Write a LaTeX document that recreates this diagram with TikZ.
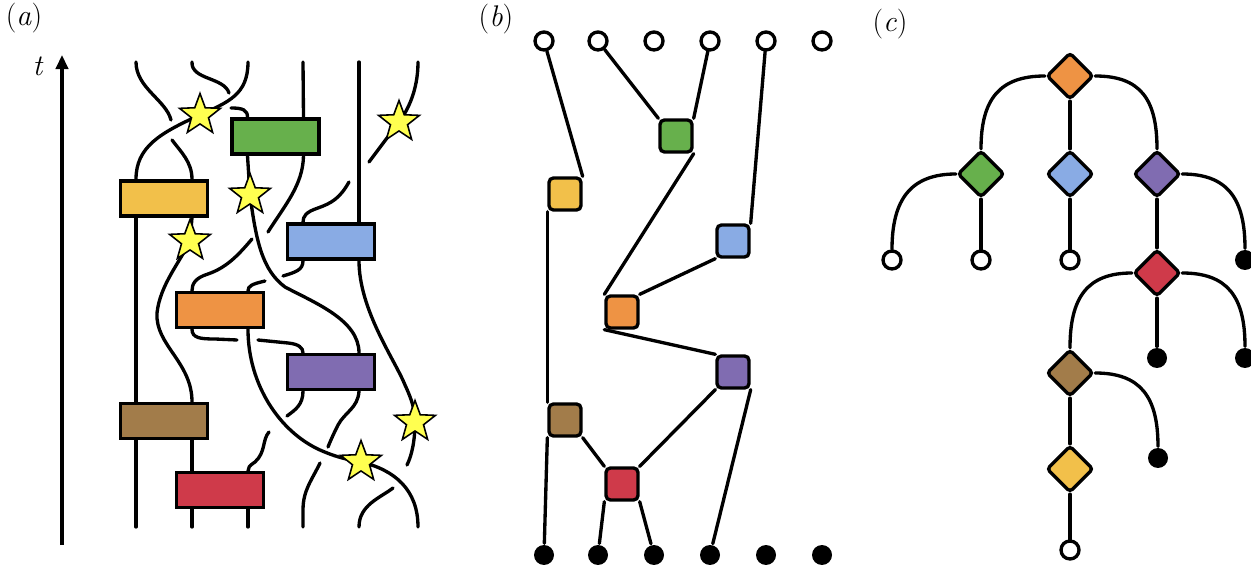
\documentclass[tikz,border=0pt]{standalone}
\usepackage{fontspec}
\usetikzlibrary{shapes.geometric,arrows.meta,calc}
\definecolor{gateGreen}{RGB}{103,176,76}
\definecolor{gateYellow}{RGB}{242,192,74}
\definecolor{gateBlue}{RGB}{137,171,228}
\definecolor{gateOrange}{RGB}{238,147,68}
\definecolor{gatePurple}{RGB}{128,108,177}
\definecolor{gateBrown}{RGB}{162,124,74}
\definecolor{gateRed}{RGB}{207,58,74}
\definecolor{starYellow}{RGB}{255,255,80}

\begin{document}
\begin{tikzpicture}[x=0.02cm, y=-0.02cm, line width=1.9pt, line cap=round,
        gate/.style={draw, rectangle, minimum width=1.74cm, minimum height=0.7cm, inner sep=0pt},
        tile/.style={draw, rectangle, rounded corners=2.5pt, minimum size=0.64cm, inner sep=0pt},
        gem/.style={draw, diamond, rounded corners=2pt, minimum size=0.94cm, inner sep=0pt},
        leaf/.style={draw, circle, fill=white, minimum size=0.36cm, inner sep=0pt},
        fulldot/.style={circle, fill=black, minimum size=0.4cm, inner sep=0pt},
        kick/.style={draw, star, star points=5, star point ratio=2.4, line width=0.9pt, fill=starYellow, minimum size=0.86cm, inner sep=0pt},
        lbl/.style={font=\fontsize{17}{20}\selectfont}]
        \useasboundingbox (0,0) rectangle (1251,567);

        \node[lbl] (pa) at (24,18) {(\textit{a})};
        \node[lbl] (pb) at (496,19) {(\textit{b})};
        \node[lbl] (pc) at (890,24) {(\textit{c})};
        \node[lbl] (tl) at (38,66) {\textit{t}};
        \coordinate (tbot) at (62,545);
        \coordinate (ttop) at (62,55);
        \draw[-{Triangle[length=8pt,width=7pt]}, line cap=butt] (tbot) -- (ttop);

        \foreach \i/\x in {1/136,2/192,3/248,4/303,5/359,6/418} {
            \coordinate (a\i) at (\x,62);
            \coordinate (z\i) at (\x,527);
        }
        \coordinate (s1) at (200,115);
        \coordinate (s2) at (399,122);
        \coordinate (s3) at (250,195);
        \coordinate (s4) at (190,241);
        \coordinate (s5) at (415,422);
        \coordinate (s6) at (361,462);

        \node[gate, fill=gateGreen] (gg) at (275.5,136.5) {};
        \node[gate, fill=gateYellow] (gy) at (164,198.5) {};
        \node[gate, fill=gateBlue] (gb) at (331,241.5) {};
        \node[gate, fill=gateOrange] (go) at (220,310) {};
        \node[gate, fill=gatePurple] (gp) at (331,372) {};
        \node[gate, fill=gateBrown] (gw) at (164,421) {};
        \node[gate, fill=gateRed] (gr) at (220,490) {};
        \foreach \g in {gg,gy,gb,go,gp,gw,gr} {
            \coordinate (\g-nl) at ($(\g.north)+(-28,0)$);
            \coordinate (\g-nr) at ($(\g.north)+(28,0)$);
            \coordinate (\g-sl) at ($(\g.south)+(-28,0)$);
            \coordinate (\g-sr) at ($(\g.south)+(28,0)$);
        }

        \draw (a1) .. controls (136,88) and (166,100) .. (171,120);
        \draw (172,140) .. controls (181,152) and (192,162) .. (gy-nr);
        \draw (a2) .. controls (191,80) and (224,77) .. (229,93);
        \draw (231,108) .. controls (243,108) and (247.5,110) .. (gg-nl);
        \draw (a3) .. controls (248,95) and (228,102) .. (s1) .. controls (160,133) and (136,147) .. (gy-nl);
        \draw (a4) -- (gg-nr);
        \draw (a5) -- (gb-nr);
        \draw (a6) .. controls (418,90) and (408,110) .. (s2) -- (369,162);
        \draw (349,182) .. controls (340,198) and (332,203) .. (318,208) .. controls (306,212) and (303,216) .. (gb-nl);
        \draw (gg-sl) -- (s3) .. controls (256,240) and (262,270) .. (285,287) .. controls (315,303) and (359,320) .. (gp-nr);
        \draw (gg-sr) .. controls (303,185) and (285,205) .. (268,232);
        \draw (252,239) .. controls (236,258) and (225,268) .. (208,274) .. controls (195,278) and (192,284) .. (go-nl);
        \draw (gy-sr) -- (s4) .. controls (180,262) and (160,285) .. (157,313) .. controls (155,345) and (192,362) .. (gw-nr);
        \draw (gy-sl) -- (gw-nl);
        \draw (gb-sl) .. controls (303,270) and (296,272) .. (283,276);
        \draw (265,281) .. controls (252,284) and (248,286) .. (go-nr);
        \draw (gb-sr) .. controls (359,310) and (395,360) .. (405,385) .. controls (412,400) and (415,410) .. (s5) .. controls (415,440) and (412,455) .. (407,465);
        \draw (393,488) .. controls (380,498) and (359,505) .. (z5);
        \draw (go-sr) .. controls (248,385) and (280,432) .. (320,450) .. controls (338,458) and (350,460) .. (s6) .. controls (395,470) and (418,490) .. (z6);
        \draw (go-sl) .. controls (192,338) and (200,339) .. (215,339) -- (237,340);
        \draw (258,340) -- (288,343) .. controls (299,344) and (303,348) .. (gp-nl);
        \draw (gp-sl) .. controls (303,405) and (295,410) .. (287,416);
        \draw (269,432) .. controls (262,440) and (266,452) .. (255,462) .. controls (249,466) and (248,468) .. (gr-nr);
        \draw (gp-sr) .. controls (358,408) and (345,412) .. (338,425) .. controls (333,435) and (330,442) .. (328,447);
        \draw (320,463) .. controls (312,480) and (303,490) .. (303,510) -- (z4);
        \draw (gw-sl) -- (z1);
        \draw (gw-sr) -- (gr-nl);
        \draw (gr-sl) -- (z2);
        \draw (gr-sr) -- (z3);
        \foreach \i in {1,...,6}
            \node[kick] (st\i) at (s\i) {};

        \foreach \i/\x in {1/544,2/598,3/654,4/710,5/766,6/822} {
            \node[leaf] (u\i) at (\x,41) {};
            \node[fulldot] (d\i) at (\x,555) {};
        }
        \node[tile, fill=gateGreen] (bG) at (676,136) {};
        \node[tile, fill=gateYellow] (bY) at (565,194) {};
        \node[tile, fill=gateBlue] (bB) at (733,241) {};
        \node[tile, fill=gateOrange] (bO) at (622,312) {};
        \node[tile, fill=gatePurple] (bP) at (733,372) {};
        \node[tile, fill=gateBrown] (bW) at (565,420) {};
        \node[tile, fill=gateRed] (bR) at (622,484) {};
        \draw (u1) -- (bY.north east);
        \draw (u2) -- (bG.north west);
        \draw (u4) -- (bG.north east);
        \draw (u5) -- (bB.north east);
        \draw (bY.south west) -- (bW.north west);
        \draw (bG.south east) -- (bO.north west);
        \draw (bB.south west) -- (bO.north east);
        \draw (bO.south west) -- (bP.north west);
        \draw (bP.south west) -- (bR.north east);
        \draw (bP.south east) -- (d4);
        \draw (bW.south east) -- (bR.north west);
        \draw (bW.south west) -- (d1);
        \draw (bR.south west) -- (d2);
        \draw (bR.south east) -- (d3);

        \node[gem, fill=gateOrange] (cO) at (1070,76) {};
        \node[gem, fill=gateGreen] (cG) at (981,174) {};
        \node[gem, fill=gateBlue] (cB) at (1070,174) {};
        \node[gem, fill=gatePurple] (cP) at (1157,174) {};
        \node[gem, fill=gateRed] (cR) at (1157,273) {};
        \node[gem, fill=gateBrown] (cW) at (1070,373) {};
        \node[gem, fill=gateYellow] (cY) at (1070,469) {};
        \node[leaf] (l1) at (892,260) {};
        \node[leaf] (l2) at (981,260) {};
        \node[leaf] (l3) at (1070,260) {};
        \node[fulldot] (l4) at (1245,260) {};
        \node[fulldot] (l5) at (1157,358) {};
        \node[fulldot] (l6) at (1245,358) {};
        \node[fulldot] (l7) at (1158,458) {};
        \node[leaf] (l8) at (1070,550) {};
        \draw (cO.west) .. controls +(-45,0) and +(0,-50) .. (cG.north);
        \draw (cO.east) .. controls +(45,0) and +(0,-50) .. (cP.north);
        \draw (cO.south) -- (cB.north);
        \draw (cG.west) .. controls +(-45,0) and +(0,-50) .. (l1.north);
        \draw (cG.south) -- (l2);
        \draw (cB.south) -- (l3);
        \draw (cP.south) -- (cR.north);
        \draw (cP.east) .. controls +(45,0) and +(0,-50) .. (l4.north);
        \draw (cR.west) .. controls +(-45,0) and +(0,-50) .. (cW.north);
        \draw (cR.south) -- (l5);
        \draw (cR.east) .. controls +(45,0) and +(0,-50) .. (l6.north);
        \draw (cW.east) .. controls +(45,0) and +(0,-50) .. (l7.north);
        \draw (cW.south) -- (cY.north);
        \draw (cY.south) -- (l8);
\end{tikzpicture}
\end{document}
